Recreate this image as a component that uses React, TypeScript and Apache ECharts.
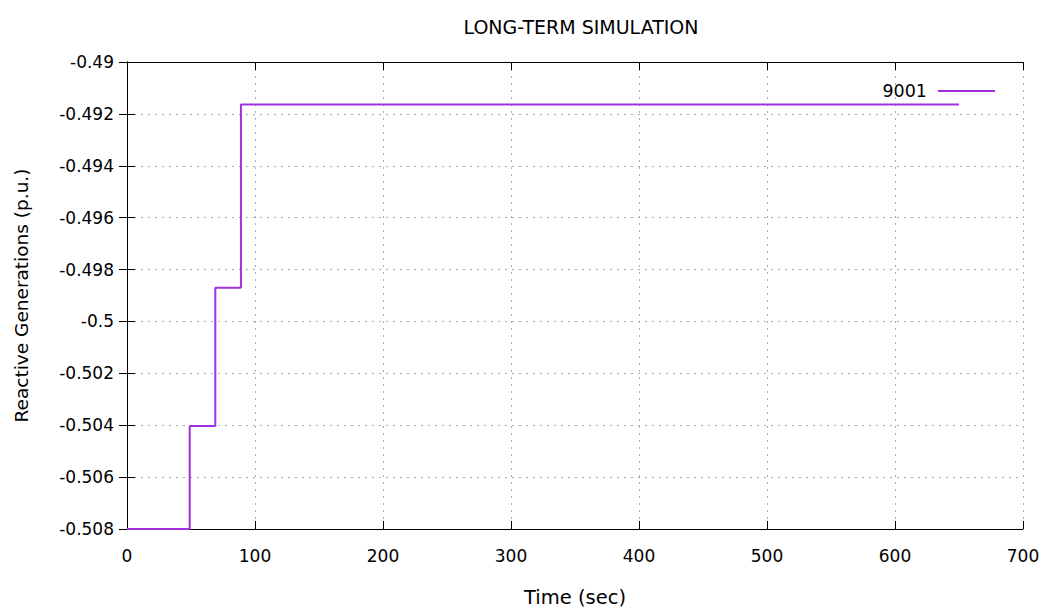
import React, { useEffect, useRef } from "react";
import * as echarts from "echarts";

const times = [0, 49, 69, 89, 650];
const values = [-0.508, -0.50403, -0.4987, -0.49164, -0.49164];
const seriesName = "9001";
const xTicks = [0, 100, 200, 300, 400, 500, 600, 700];
const yMin = -0.508;
const yMax = -0.49;
const yStep = 0.002;

const FONT = "DejaVu Sans, sans-serif";
const FS = 17;
const LINE_COLOR = "#a030e0";

export default function App() {
  const ref = useRef<HTMLDivElement>(null);
  useEffect(() => {
    if (!ref.current) return;
    const chart = echarts.init(ref.current, undefined, { renderer: "svg" });
    const fmtY = (v: number) => String(Number(v.toFixed(3)));
    const tickStyle = { show: true, inside: true, length: 8, lineStyle: { color: "#000", width: 1 } };
    chart.setOption({
      animation: false,
      backgroundColor: "#fff",
      title: {
        text: "LONG-TERM SIMULATION",
        left: 576,
        top: 12,
        textAlign: "center",
        textStyle: { fontFamily: FONT, fontSize: 19, fontWeight: "normal", color: "#000" },
      },
      legend: {
        data: [seriesName],
        right: 45,
        top: 77,
        align: "right",
        icon: "rect",
        itemWidth: 57,
        itemHeight: 2,
        itemGap: 10,
        textStyle: { fontFamily: FONT, fontSize: 17.5, color: "#000", padding: [0, 6, 0, 0] },
      },
      grid: { left: 127, right: 22, top: 62, bottom: 79, containLabel: false },
      xAxis: [
        {
          type: "value",
          min: xTicks[0],
          max: xTicks[xTicks.length - 1],
          interval: 100,
          name: "Time (sec)",
          nameLocation: "middle",
          nameGap: 58,
          nameTextStyle: { fontFamily: FONT, fontSize: 19.5, color: "#000" },
          axisLine: { show: true, lineStyle: { color: "#000", width: 1 } },
          axisTick: tickStyle,
          axisLabel: { fontFamily: FONT, fontSize: FS, color: "#000", margin: 18 },
          splitLine: { show: true, lineStyle: { color: "#aaa", type: [2, 5], width: 1 } },
        },
        {
          type: "value",
          position: "top",
          min: xTicks[0],
          max: xTicks[xTicks.length - 1],
          interval: 100,
          axisLine: { show: true, lineStyle: { color: "#000", width: 1 } },
          axisTick: tickStyle,
          axisLabel: { show: false },
          splitLine: { show: false },
        },
      ],
      yAxis: [
        {
          type: "value",
          min: yMin,
          max: yMax,
          interval: yStep,
          name: "Reactive Generations (p.u.)",
          nameLocation: "middle",
          nameGap: 96,
          nameTextStyle: { fontFamily: FONT, fontSize: 18.5, color: "#000" },
          axisLine: { show: true, lineStyle: { color: "#000", width: 1 } },
          axisTick: tickStyle,
          axisLabel: { fontFamily: FONT, fontSize: FS, color: "#000", margin: 13, formatter: fmtY },
          splitLine: { show: true, lineStyle: { color: "#aaa", type: [2, 5], width: 1 } },
        },
        {
          type: "value",
          position: "right",
          min: yMin,
          max: yMax,
          interval: yStep,
          axisLine: { show: true, lineStyle: { color: "#000", width: 1 } },
          axisTick: tickStyle,
          axisLabel: { show: false },
          splitLine: { show: false },
        },
      ],
      series: [
        {
          name: seriesName,
          type: "line",
          step: "end",
          symbol: "none",
          data: times.map((t, i) => [t, values[i]]),
          lineStyle: { color: LINE_COLOR, width: 2 },
          itemStyle: { color: LINE_COLOR },
        },
      ],
    });
    return () => chart.dispose();
  }, []);
  return (
    <div
      ref={ref}
      style={{ position: "absolute", left: 0, top: 0, width: 1045, height: 612 }}
    />
  );
}
